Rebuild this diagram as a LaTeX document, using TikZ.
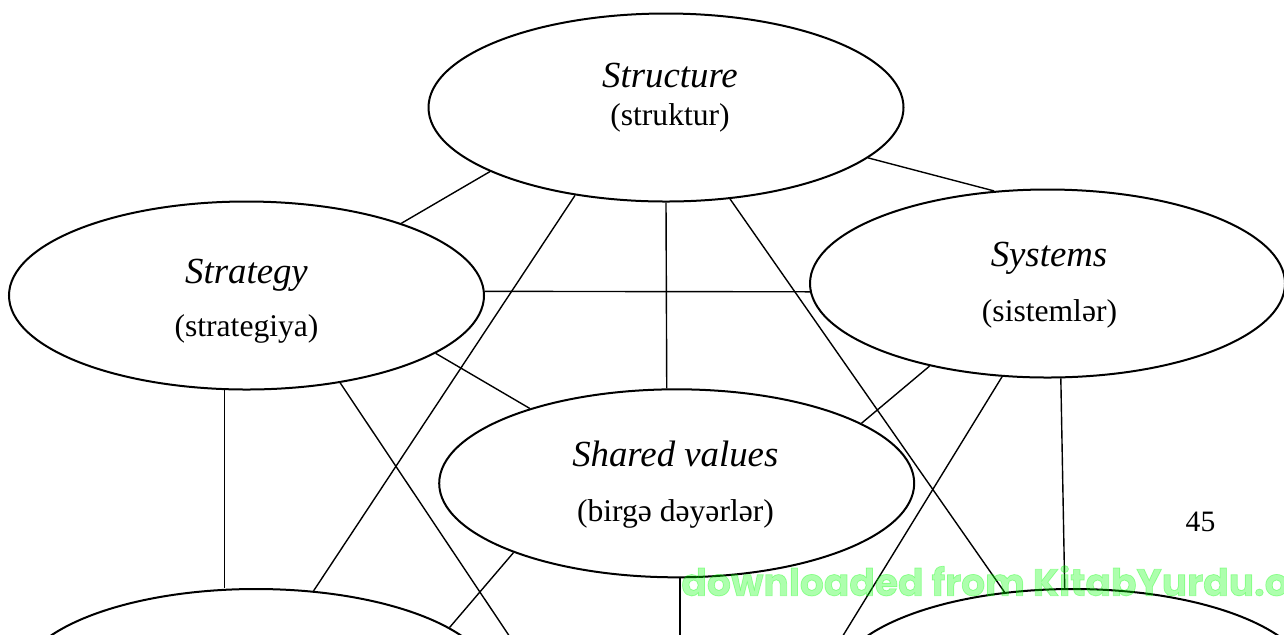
\documentclass[tikz,border=0pt]{standalone}
\usepackage{fontspec}
\setmainfont{Liberation Serif}
\newfontfamily\wmfont{Poppins}[BoldFeatures = {FakeBold = 2}]
\usetikzlibrary{shapes.geometric}
\definecolor{wmgreen}{RGB}{0,255,0}

\begin{document}
\begin{tikzpicture}[x = 0.5pt, y = -0.5pt,
    oval/.style = {shape = ellipse, draw, line width = 1pt, minimum width = 237.5pt, minimum height = 94pt, inner sep = 0pt},
    heading/.style = {anchor = base, inner sep = 0pt, font = \fontsize{18.4}{22}\selectfont\itshape},
    gloss/.style = {anchor = base, inner sep = 0pt, font = \fontsize{15.8}{19}\selectfont},
    link/.style = {line width = 0.7pt}]
    \useasboundingbox (0,0) rectangle (1284,634);
    \clip (0,0) rectangle (1284,634);
    \node [oval] (stru) at (666,107.5) {};
    \node [oval] (strat) at (246.5,295.5) {};
    \node [oval] (syst) at (1047.5,283.5) {};
    \node [oval] (shar) at (676.7,483.3) {};
    \node [oval] (lowl) at (256,683) {};
    \node [oval] (lowr) at (1073,683) {};
    \coordinate (low) at (683,896);
    \node [heading] (struA) at (670,87.3) {Structure};
    \node [gloss] (struB) at (670,125) {(struktur)};
    \node [heading] (stratA) at (246.5,283.3) {Strategy};
    \node [gloss] (stratB) at (246.5,336.7) {(strategiya)};
    \node [heading] (systA) at (1049,266.7) {Systems};
    \node [gloss] (systB) at (1049.5,321.7) {(sistemlər)};
    \node [heading] (sharA) at (675.3,466.7) {Shared values};
    \node [gloss] (sharB) at (675.5,521.7) {(birgə dəyərlər)};
    \node [anchor = base, inner sep = 0pt, font = \fontsize{14.8}{18}\selectfont] (page) at (1200.5,531.7) {45};
    \draw [link] (stru.200) -- (strat.25);
    \draw [link] (stru.346) -- (syst.120);
    \draw [link] (strat.1) -- (syst.182);
    \draw [link] (stru.224) -- (lowl.58);
    \draw [link] (stru.270) -- (shar.96);
    \draw [link] (stru.305) -- (lowr.127);
    \draw [link] (strat.343) -- (shar.153);
    \draw [link] (strat.257) -- (strat.257 |- lowl.north);
    \draw [link] (strat.317) -- (low);
    \draw [link] (syst.215) -- (shar.18);
    \draw [link] (syst.244) -- (low);
    \draw [link] (syst.278) -- (lowr.95);
    \draw [link] (shar.203) -- (lowl.16);
    \draw [link] (shar.272) -- (shar.272 |- low);
    \node [anchor = base west, inner sep = 0pt, text = wmgreen, text opacity = 0.32,
        font = \wmfont\fontsize{18.8}{22}\selectfont\bfseries] (dl) at (681,595.7) {downloaded from KitabYurdu.org};
\end{tikzpicture}
\end{document}
